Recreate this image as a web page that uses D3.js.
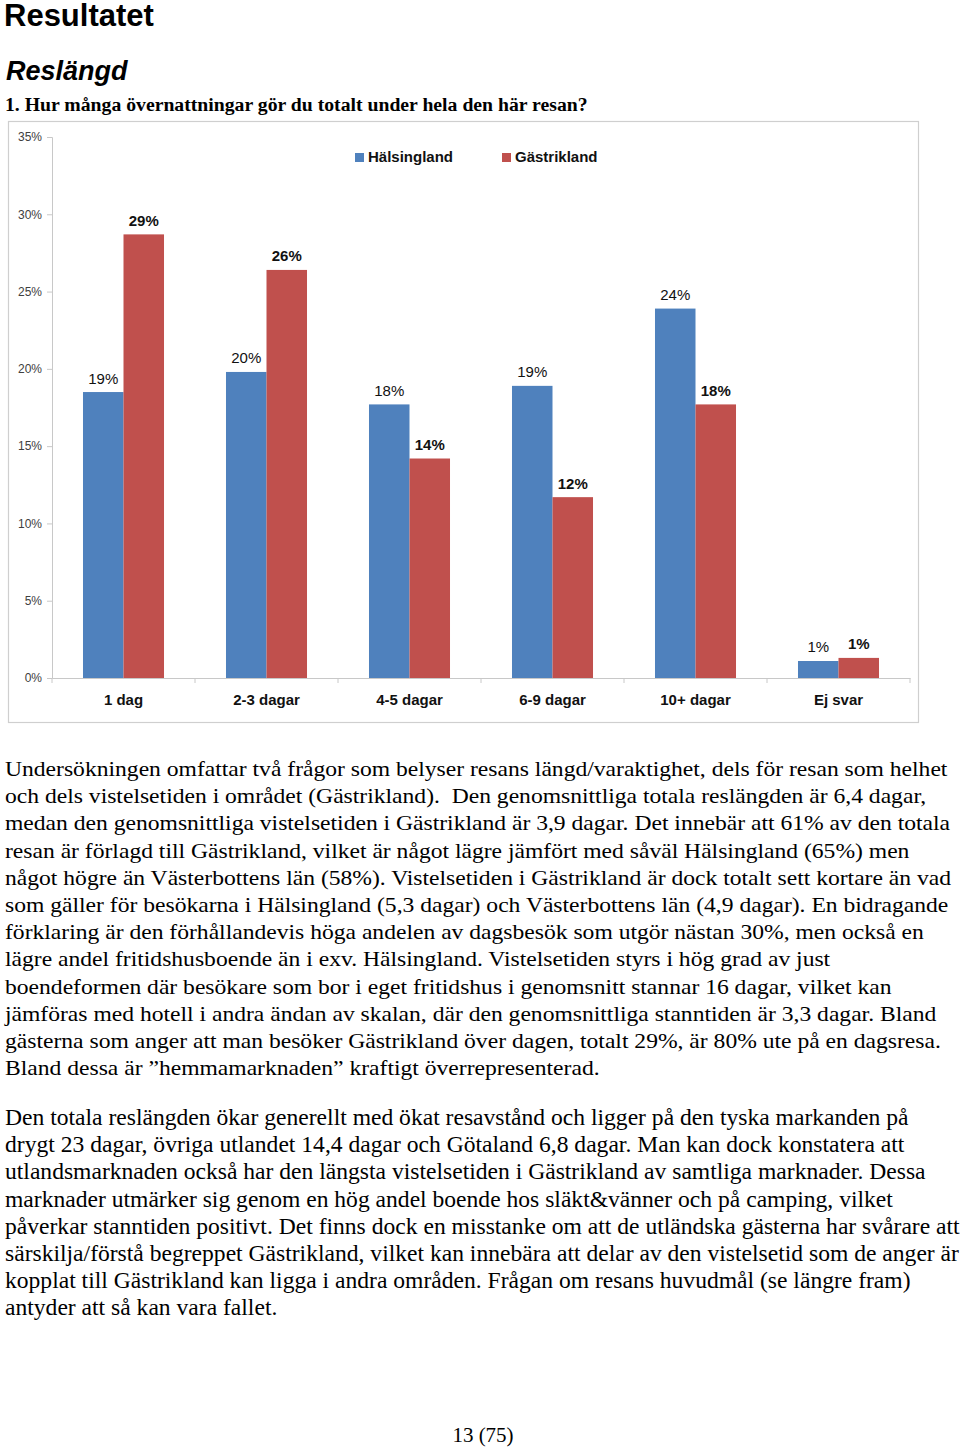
<!DOCTYPE html>
<html>
<head>
<meta charset="utf-8">
<script src="https://cdn.jsdelivr.net/npm/d3@7"></script>
<style>
  html, body { margin: 0; padding: 0; background: #fff; }
  svg { display: block; }
</style>
</head>
<body>
<svg id="page" width="960" height="1448"></svg>
<script>
// ---------- data ----------
const categories = ["1 dag", "2-3 dagar", "4-5 dagar", "6-9 dagar", "10+ dagar", "Ej svar"];
const seriesNames = ["Hälsingland", "Gästrikland"];
const halsingland = [0.185, 0.198, 0.177, 0.189, 0.239, 0.011];
const gastrikland = [0.287, 0.264, 0.142, 0.117, 0.177, 0.013];
const halsinglandLabels = ["19%", "20%", "18%", "19%", "24%", "1%"];
const gastriklandLabels = ["29%", "26%", "14%", "12%", "18%", "1%"];
const yTicks = [0, 0.05, 0.10, 0.15, 0.20, 0.25, 0.30, 0.35];
const colors = ["#4F81BD", "#C0504D"];

const para1 = [
  "Undersökningen omfattar två frågor som belyser resans längd/varaktighet, dels för resan som helhet",
  "och dels vistelsetiden i området (Gästrikland).  Den genomsnittliga totala reslängden är 6,4 dagar,",
  "medan den genomsnittliga vistelsetiden i Gästrikland är 3,9 dagar. Det innebär att 61% av den totala",
  "resan är förlagd till Gästrikland, vilket är något lägre jämfört med såväl Hälsingland (65%) men",
  "något högre än Västerbottens län (58%). Vistelsetiden i Gästrikland är dock totalt sett kortare än vad",
  "som gäller för besökarna i Hälsingland (5,3 dagar) och Västerbottens län (4,9 dagar). En bidragande",
  "förklaring är den förhållandevis höga andelen av dagsbesök som utgör nästan 30%, men också en",
  "lägre andel fritidshusboende än i exv. Hälsingland. Vistelsetiden styrs i hög grad av just",
  "boendeformen där besökare som bor i eget fritidshus i genomsnitt stannar 16 dagar, vilket kan",
  "jämföras med hotell i andra ändan av skalan, där den genomsnittliga stanntiden är 3,3 dagar. Bland",
  "gästerna som anger att man besöker Gästrikland över dagen, totalt 29%, är 80% ute på en dagsresa.",
  "Bland dessa är ”hemmamarknaden” kraftigt överrepresenterad."
];
const para2 = [
  "Den totala reslängden ökar generellt med ökat resavstånd och ligger på den tyska markanden på",
  "drygt 23 dagar, övriga utlandet 14,4 dagar och Götaland 6,8 dagar. Man kan dock konstatera att",
  "utlandsmarknaden också har den längsta vistelsetiden i Gästrikland av samtliga marknader. Dessa",
  "marknader utmärker sig genom en hög andel boende hos släkt&vänner och på camping, vilket",
  "påverkar stanntiden positivt. Det finns dock en misstanke om att de utländska gästerna har svårare att",
  "särskilja/förstå begreppet Gästrikland, vilket kan innebära att delar av den vistelsetid som de anger är",
  "kopplat till Gästrikland kan ligga i andra områden. Frågan om resans huvudmål (se längre fram)",
  "antyder att så kan vara fallet."
];

// ---------- page ----------
const svg = d3.select("#page");
const sans = "'Liberation Sans', Arial, Helvetica, sans-serif";
const serif = "'Liberation Serif', 'Times New Roman', serif";

svg.append("text").attr("x", 4).attr("y", 26)
  .attr("font-family", sans).attr("font-weight", "bold").attr("font-size", 31)
  .text("Resultatet");
svg.append("text").attr("x", 6).attr("y", 80)
  .attr("font-family", sans).attr("font-weight", "bold").attr("font-style", "italic").attr("font-size", 27)
  .text("Reslängd");
svg.append("g").attr("transform", "translate(5,111) scale(1.066,1)")
  .append("text").attr("x", 0).attr("y", 0)
  .attr("font-family", serif).attr("font-weight", "bold").attr("font-size", 18.5)
  .text("1. Hur många övernattningar gör du totalt under hela den här resan?");

// ---------- chart ----------
svg.append("rect").attr("x", 8.5).attr("y", 121.5).attr("width", 910).attr("height", 601)
  .attr("fill", "#fff").attr("stroke", "#cfcfcf").attr("stroke-width", 1.2);

const x0 = d3.scaleBand().domain(categories).range([52, 910]).paddingInner(0).paddingOuter(0);
const x1 = d3.scaleBand().domain(seriesNames).range([0, x0.bandwidth()]).paddingInner(0).paddingOuter(0.765);
const y = d3.scaleLinear().domain([0, 0.35]).range([678, 137]);

const yAxis = d3.axisLeft(y).tickValues(yTicks).tickFormat(d3.format(".0%")).tickSize(5).tickPadding(5);
const gy = svg.append("g").attr("transform", "translate(52,0)").call(yAxis);
gy.select(".domain").attr("stroke", "#c8c8c8");
gy.selectAll(".tick line").attr("stroke", "#c8c8c8");
gy.selectAll(".tick text").attr("font-family", sans).attr("font-size", 12).attr("fill", "#404040");

const xAxis = d3.axisBottom(x0).tickSize(0).tickPadding(0);
const gx = svg.append("g").attr("transform", "translate(0,678)").call(xAxis);
gx.select(".domain").attr("stroke", "#c8c8c8");
gx.selectAll(".tick text").attr("font-family", sans).attr("font-size", 15).attr("font-weight", "bold")
  .attr("fill", "#111").attr("dy", 0).attr("y", 27);
// boundary tick marks
gx.selectAll(".bound").data(d3.range(categories.length + 1)).enter().append("line")
  .attr("class", "bound")
  .attr("x1", i => 52 + i * x0.bandwidth()).attr("x2", i => 52 + i * x0.bandwidth())
  .attr("y1", 0).attr("y2", 5).attr("stroke", "#c8c8c8");

const rows = categories.map((c, i) => ({
  cat: c,
  vals: [
    { s: seriesNames[0], v: halsingland[i], label: halsinglandLabels[i], bold: false, color: colors[0] },
    { s: seriesNames[1], v: gastrikland[i], label: gastriklandLabels[i], bold: true, color: colors[1] }
  ]
}));

const groups = svg.append("g").selectAll("g").data(rows).enter().append("g")
  .attr("transform", d => `translate(${x0(d.cat)},0)`);
groups.selectAll("rect").data(d => d.vals).enter().append("rect")
  .attr("x", d => x1(d.s)).attr("width", x1.bandwidth())
  .attr("y", d => y(d.v)).attr("height", d => y(0) - y(d.v))
  .attr("fill", d => d.color);
groups.selectAll("text").data(d => d.vals).enter().append("text")
  .attr("x", d => x1(d.s) + x1.bandwidth() / 2).attr("y", d => y(d.v) - 8.5)
  .attr("text-anchor", "middle").attr("font-family", sans).attr("font-size", 15)
  .attr("font-weight", d => d.bold ? "bold" : "normal").attr("fill", "#111")
  .text(d => d.label);

// legend
const legend = svg.append("g");
const legendX = [355, 502];
seriesNames.forEach((s, i) => {
  legend.append("rect").attr("x", legendX[i]).attr("y", 153).attr("width", 9).attr("height", 9).attr("fill", colors[i]);
  legend.append("text").attr("x", legendX[i] + 13).attr("y", 162)
    .attr("font-family", sans).attr("font-size", 15).attr("font-weight", "bold").attr("fill", "#111").text(s);
});

// ---------- body text ----------
function paragraph(lines, y0, size, scale) {
  const g = svg.append("g").attr("transform", `translate(5,0) scale(${scale},1)`);
  g.selectAll("text").data(lines).enter().append("text")
    .attr("x", 0).attr("y", (d, i) => y0 + i * 27.2)
    .attr("font-family", serif).attr("font-size", size).attr("fill", "#000")
    .attr("xml:space", "preserve").style("white-space", "pre")
    .text(d => d);
}
paragraph(para1, 776, 20, 1.18);
paragraph(para2, 1125, 23.5, 1.004);

svg.append("text").attr("x", 483).attr("y", 1442).attr("text-anchor", "middle")
  .attr("font-family", serif).attr("font-size", 21).text("13 (75)");
</script>
</body>
</html>
